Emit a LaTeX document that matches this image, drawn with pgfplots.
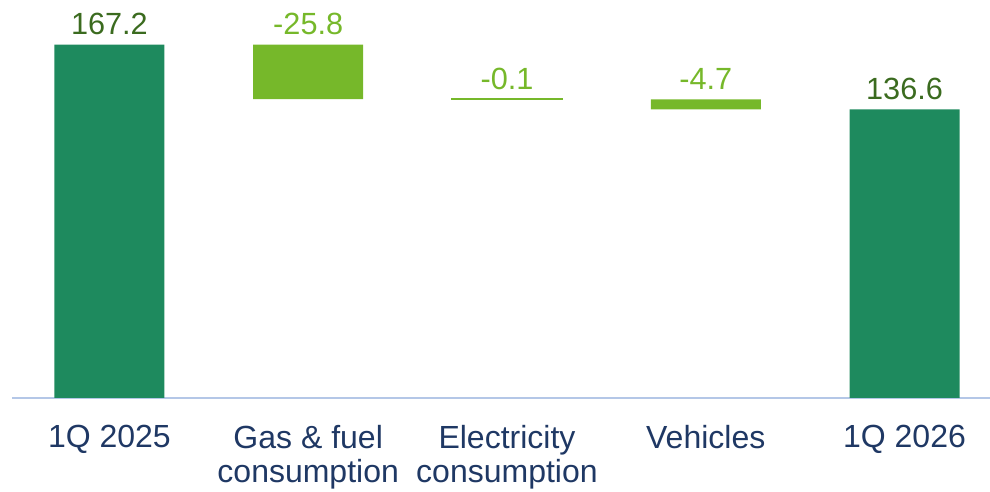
\documentclass[border=0pt]{standalone}
\usepackage{pgfplots}
\pgfplotsset{compat=1.18}
\usepackage{fontspec}
\setmainfont{Liberation Sans}
\definecolor{darkbar}{HTML}{1E8A5E}
\definecolor{lightbar}{HTML}{76B82A}
\definecolor{darklabel}{HTML}{3B6B1F}
\definecolor{ticklab}{HTML}{1F3864}
\definecolor{axisline}{HTML}{B4C7E7}
\tikzset{vlab/.style={font=\fontsize{23}{25}\selectfont, inner sep=0pt, anchor=south, yshift=7pt}}
\begin{document}
\begin{tikzpicture}[x=1pt,y=1pt]
\useasboundingbox (-9,-70.5) rectangle (733.5,298.5);
\pgfplotsset{common/.style={scale only axis, width=733.5pt, height=298.5pt,
  xmin=-0.49, xmax=4.43, ymin=0, ymax=188.3, anchor=south west, at={(0,0)}, clip=false}}
\begin{axis}[common, axis y line=none, axis x line*=bottom,
  axis line style={axisline, line width=1.1pt, -},
  xtick={0,1,2,3,4},
  xticklabels={1Q 2025, {Gas \& fuel\\consumption}, {Electricity\\consumption}, Vehicles, 1Q 2026},
  major tick length=0pt,
  x tick label style={font=\fontsize{24}{26}\selectfont, text=ticklab, align=center, inner sep=0pt, anchor=north, yshift=-20pt},
  ybar, bar width=82.5pt]
\addplot[fill=darkbar, draw=none] coordinates {(0,167.2) (4,136.6)};
\end{axis}
% gas and vehicles (waterfall steps)
\begin{axis}[common, hide axis, ybar stacked, bar width=82.5pt]
\addplot[draw=none, fill=none] coordinates {(1,141.4) (3,136.6)};
\addplot[fill=lightbar, draw=none] coordinates {(1,25.8) (3,4.7)};
\end{axis}
% electricity (very small step)
\begin{axis}[common, hide axis, ybar stacked, bar width=82.5pt]
\addplot[draw=none, fill=none] coordinates {(2,141.3)};
\addplot[fill=lightbar, draw=lightbar, line width=1.2pt] coordinates {(2,0.1)};
\end{axis}
% value labels
\begin{axis}[common, hide axis]
\addplot[draw=none, nodes near coords, point meta=explicit symbolic,
  nodes near coords style={vlab, text=darklabel}]
  coordinates {(0,167.2) [167.2] (4,136.6) [136.6]};
\addplot[draw=none, nodes near coords, point meta=explicit symbolic,
  nodes near coords style={vlab, text=lightbar}]
  coordinates {(1,167.2) [-25.8] (2,141.4) [-0.1] (3,141.3) [-4.7]};
\end{axis}
\end{tikzpicture}
\end{document}
